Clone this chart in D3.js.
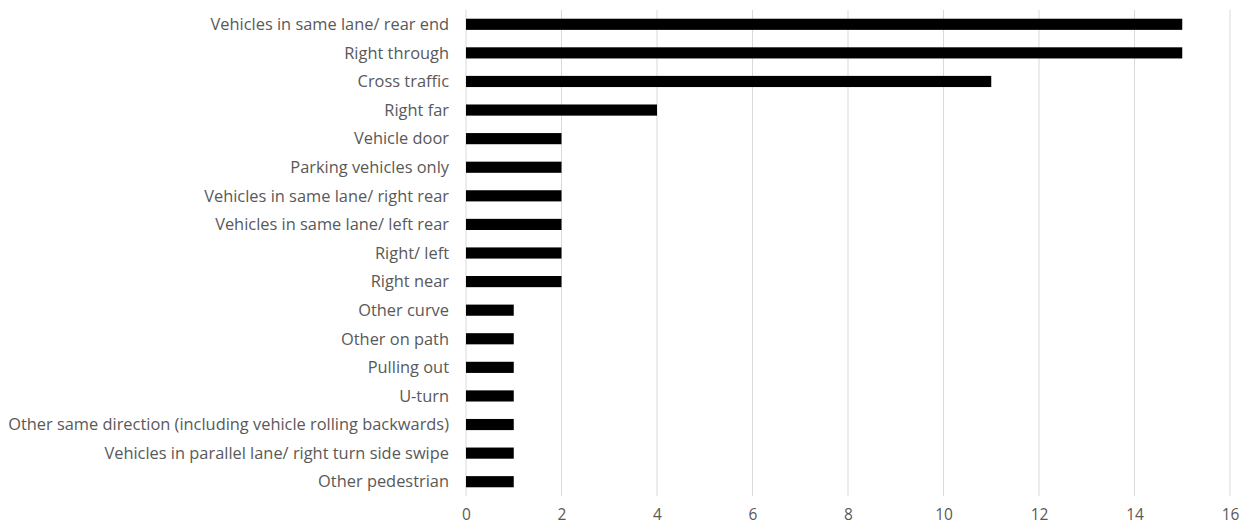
<!DOCTYPE html>
<html>
<head>
<meta charset="utf-8">
<script src="https://cdn.jsdelivr.net/npm/d3@7"></script>
<style>
  body { margin: 0; background: #fff; }
  text { font-family: "Open Sans", sans-serif; }
</style>
</head>
<body>
<div id="chart"></div>
<script>

const categories = [
  "Vehicles in same lane/ rear end",
  "Right through",
  "Cross traffic",
  "Right far",
  "Vehicle door",
  "Parking vehicles only",
  "Vehicles in same lane/ right rear",
  "Vehicles in same lane/ left rear",
  "Right/ left",
  "Right near",
  "Other curve",
  "Other on path",
  "Pulling out",
  "U-turn",
  "Other same direction (including vehicle rolling backwards)",
  "Vehicles in parallel lane/ right turn side swipe",
  "Other pedestrian"
];
const values = [15, 15, 11, 4, 2, 2, 2, 2, 2, 2, 1, 1, 1, 1, 1, 1, 1];
const xTicks = [0, 2, 4, 6, 8, 10, 12, 14, 16];

const W = 1254, H = 527;
const margin = {top: 10, right: 24, bottom: 31, left: 466};
const width = W - margin.left - margin.right,
      height = H - margin.top - margin.bottom;

const svg = d3.select("#chart")
  .append("svg")
    .attr("width", W)
    .attr("height", H)
  .append("g")
    .attr("transform", `translate(${margin.left},${margin.top})`);

const x = d3.scaleLinear()
    .domain([0, 16])
    .range([0, width]);

const y = d3.scaleBand()
    .domain(categories)
    .range([0, height])
    .paddingInner(0.61)
    .paddingOuter(0.305);

// gridlines
svg.append("g")
  .selectAll("line")
  .data(xTicks)
  .join("line")
    .attr("x1", d => x(d)).attr("x2", d => x(d))
    .attr("y1", 0).attr("y2", height)
    .attr("stroke", "#d9d9d9")
    .attr("stroke-width", 1);

// x axis labels
const xAxis = svg.append("g")
    .attr("transform", `translate(0, ${height})`)
    .call(d3.axisBottom(x).tickValues(xTicks).tickSize(0).tickPadding(13));
xAxis.select(".domain").remove();
xAxis.selectAll("text")
    .style("font-size", "15.5px")
    .attr("fill", "#595959");

// y labels
svg.append("g")
  .selectAll("text")
  .data(categories)
  .join("text")
    .attr("x", -17)
    .attr("y", d => y(d) + y.bandwidth() / 2)
    .attr("dy", "0.35em")
    .attr("text-anchor", "end")
    .attr("fill", "#595959")
    .style("font-size", "16.4px")
    .text(d => d);

// bars
svg.append("g")
  .selectAll("rect")
  .data(values)
  .join("rect")
    .attr("x", x(0))
    .attr("y", (d, i) => y(categories[i]))
    .attr("width", d => x(d) - x(0))
    .attr("height", y.bandwidth())
    .attr("fill", "#000");

</script>
</body>
</html>
